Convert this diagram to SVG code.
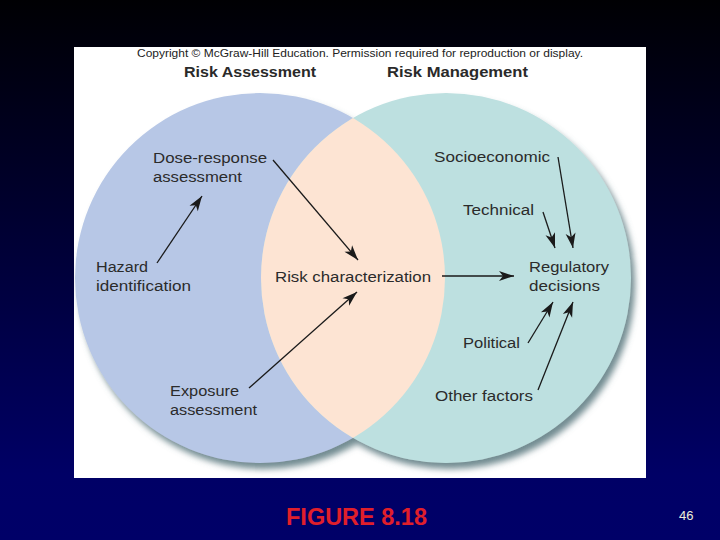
<svg xmlns="http://www.w3.org/2000/svg" width="720" height="540" viewBox="0 0 720 540">
  <defs>
    <linearGradient id="bg" x1="0" y1="0" x2="0" y2="1">
      <stop offset="0" stop-color="#000003"/>
      <stop offset="0.88" stop-color="#000066"/>
      <stop offset="1" stop-color="#000068"/>
    </linearGradient>
    <clipPath id="leftClip">
      <circle cx="260" cy="278" r="185"/>
    </clipPath>
    <filter id="shadow" x="-10%" y="-10%" width="125%" height="125%">
      <feGaussianBlur in="SourceAlpha" stdDeviation="3"/>
      <feOffset dx="4" dy="6" result="b"/>
      <feFlood flood-color="#4f6f76" flood-opacity="0.8"/>
      <feComposite in2="b" operator="in"/>
      <feMerge>
        <feMergeNode/>
        <feMergeNode in="SourceGraphic"/>
      </feMerge>
    </filter>
    <marker id="arrow" markerUnits="userSpaceOnUse" markerWidth="18" markerHeight="12" viewBox="-15 -6 16 12" refX="0" refY="0" orient="auto">
      <path d="M0,0 L-15,-5 L-11,0 L-15,5 Z" fill="#1a1a1a"/>
    </marker>
    <style>
      .lbl { font-family: "Liberation Sans", Arial, sans-serif; font-size: 15.5px; fill: #2b2b2b; }
      .hdr { font-family: "Liberation Sans", Arial, sans-serif; font-size: 15.5px; font-weight: bold; fill: #2a2a2a; }
      .conn { stroke: #1a1a1a; stroke-width: 1.3; fill: none; marker-end: url(#arrow); }
    </style>
  </defs>

  <rect x="0" y="0" width="720" height="540" fill="url(#bg)"/>
  <rect x="74" y="47" width="572" height="431" fill="#ffffff"/>

  <text x="360" y="57" text-anchor="middle" font-family="'Liberation Sans', Arial, sans-serif" font-size="10.8" fill="#222222" textLength="446" lengthAdjust="spacingAndGlyphs">Copyright © McGraw-Hill Education. Permission required for reproduction or display.</text>
  <text class="hdr" x="184" y="77" textLength="132" lengthAdjust="spacingAndGlyphs">Risk Assessment</text>
  <text class="hdr" x="387" y="77" textLength="141" lengthAdjust="spacingAndGlyphs">Risk Management</text>

  <g id="venn">
    <g filter="url(#shadow)">
      <circle cx="260" cy="278" r="185" fill="#b7c7e6"/>
      <circle cx="446" cy="278" r="185" fill="#bde0e0"/>
    </g>
    <circle cx="446" cy="278" r="185" fill="#fde4d3" clip-path="url(#leftClip)"/>
  </g>

  <g id="connectors">
    <line class="conn" x1="157" y1="263" x2="202" y2="196"/>
    <line class="conn" x1="273" y1="160" x2="358" y2="260"/>
    <line class="conn" x1="249" y1="388" x2="357" y2="292"/>
    <line class="conn" x1="442" y1="276" x2="514" y2="276"/>
    <line class="conn" x1="558" y1="157" x2="573" y2="248"/>
    <line class="conn" x1="543" y1="212" x2="555" y2="248"/>
    <line class="conn" x1="528" y1="343" x2="553" y2="302"/>
    <line class="conn" x1="538" y1="390" x2="573" y2="302"/>
  </g>

  <g id="dose-response">
    <text class="lbl" x="153" y="163" textLength="114" lengthAdjust="spacingAndGlyphs">Dose-response</text>
    <text class="lbl" x="153" y="182" textLength="89" lengthAdjust="spacingAndGlyphs">assessment</text>
  </g>
  <g id="hazard">
    <text class="lbl" x="96" y="272" textLength="52" lengthAdjust="spacingAndGlyphs">Hazard</text>
    <text class="lbl" x="96" y="291" textLength="95" lengthAdjust="spacingAndGlyphs">identification</text>
  </g>
  <g id="risk-characterization">
    <text class="lbl" x="275" y="282" textLength="156" lengthAdjust="spacingAndGlyphs">Risk characterization</text>
  </g>
  <g id="exposure">
    <text class="lbl" x="170" y="396" textLength="69" lengthAdjust="spacingAndGlyphs">Exposure</text>
    <text class="lbl" x="170" y="415" textLength="87" lengthAdjust="spacingAndGlyphs">assessment</text>
  </g>
  <g id="socioeconomic">
    <text class="lbl" x="434" y="162" textLength="116" lengthAdjust="spacingAndGlyphs">Socioeconomic</text>
  </g>
  <g id="technical">
    <text class="lbl" x="463" y="215" textLength="71" lengthAdjust="spacingAndGlyphs">Technical</text>
  </g>
  <g id="regulatory-decisions">
    <text class="lbl" x="529" y="272" textLength="80" lengthAdjust="spacingAndGlyphs">Regulatory</text>
    <text class="lbl" x="529" y="291" textLength="71" lengthAdjust="spacingAndGlyphs">decisions</text>
  </g>
  <g id="political">
    <text class="lbl" x="463" y="348" textLength="57" lengthAdjust="spacingAndGlyphs">Political</text>
  </g>
  <g id="other-factors">
    <text class="lbl" x="435" y="401" textLength="98" lengthAdjust="spacingAndGlyphs">Other factors</text>
  </g>

  <text x="286" y="525" font-family="'Liberation Sans', Arial, sans-serif" font-size="23" font-weight="bold" fill="#e01f2b" textLength="141" lengthAdjust="spacingAndGlyphs">FIGURE 8.18</text>
  <text x="679" y="520" font-family="'Liberation Sans', Arial, sans-serif" font-size="13" fill="#eeeed8">46</text>
</svg>
